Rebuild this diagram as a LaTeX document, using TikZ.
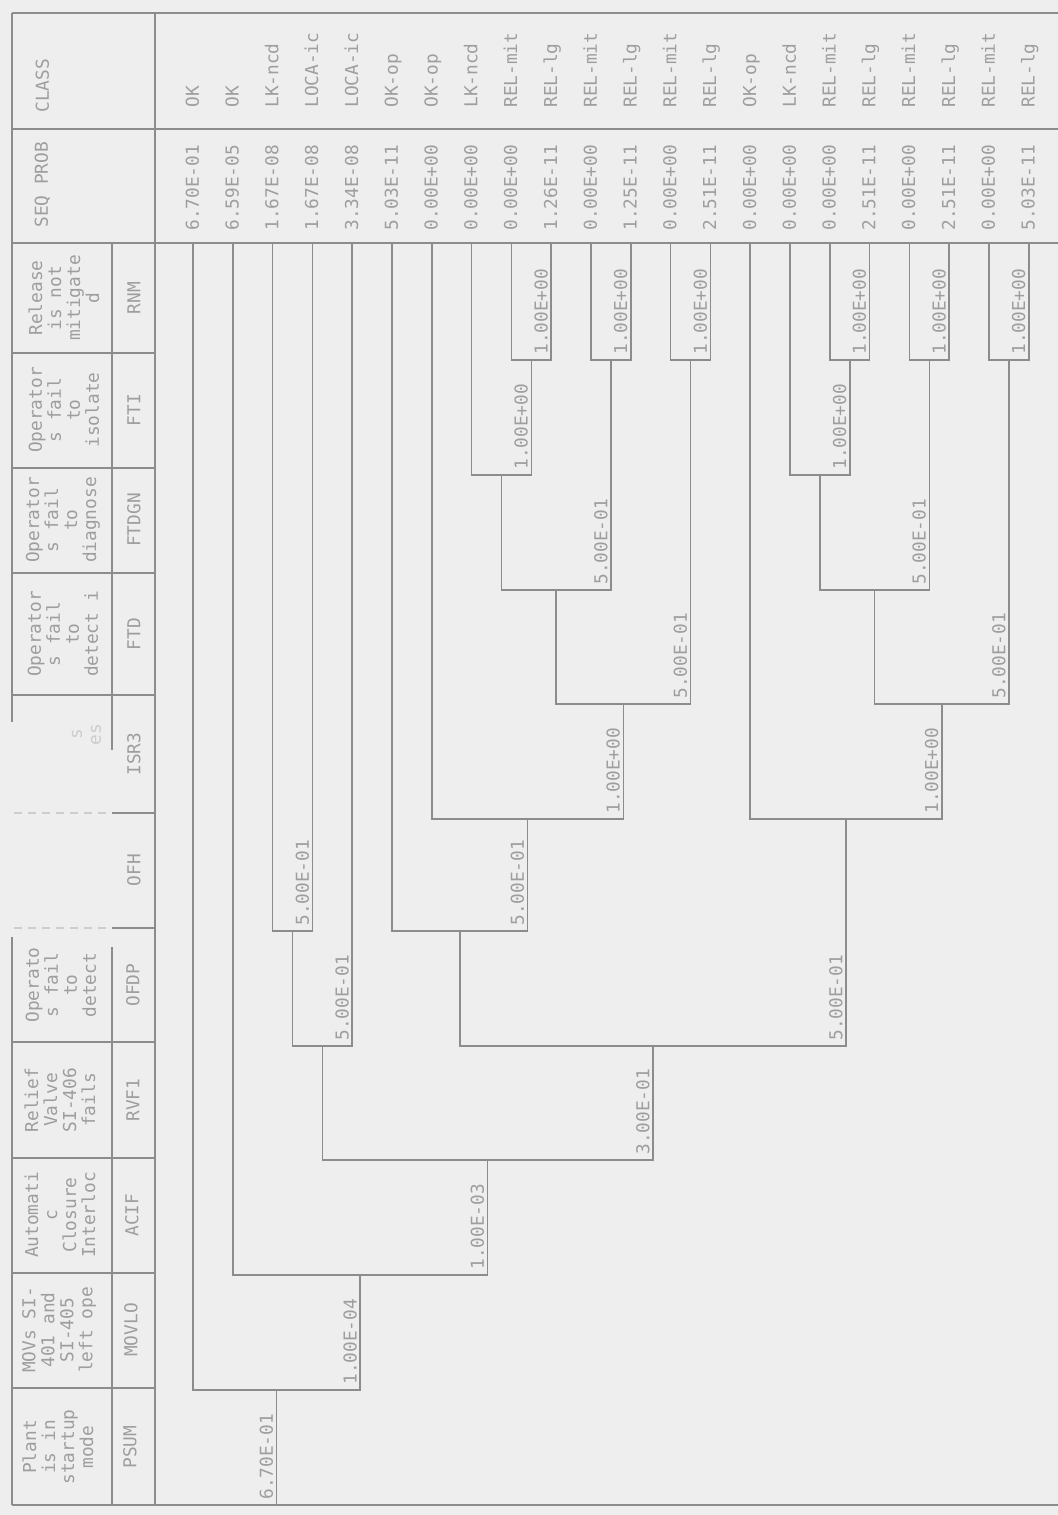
\documentclass[tikz,border=0pt]{standalone}
\usepackage{fontspec}
\newfontfamily\plotfont{DejaVu Sans Mono}
\usetikzlibrary{calc}
\definecolor{paper}{HTML}{EEEEEE}
\definecolor{ink}{HTML}{8C8C8C}
\definecolor{faded}{HTML}{9E9E9E}
\definecolor{ghost}{HTML}{CDCDCD}
\newcommand{\plotsize}{\plotfont\fontsize{8.9}{9.5}\selectfont}
\tikzset{
  frameline/.style={draw=ink,line width=0.9pt},
  branch/.style={draw=ink,line width=0.8pt},
  worn/.style={draw=ghost,line width=0.8pt,dash pattern=on 4pt off 3pt},
  heading/.style={rotate=90,font=\plotsize,text=faded,align=center,inner sep=0pt},
  eventcode/.style={rotate=90,font=\plotsize,text=faded,inner sep=0pt},
  endtext/.style={rotate=90,anchor=west,font=\plotsize,text=faded,inner sep=0pt,text height=1.35ex,text depth=0pt},
  prob/.style={rotate=90,anchor=south west,font=\plotsize,text=faded,inner sep=0pt}
}

\begin{document}
\begin{tikzpicture}[x=0.5pt,y=-0.5pt]
  \useasboundingbox (0,0) rectangle (1058,1515);
  \fill[paper] (0,0) rectangle (1058,1515);

  % table frame
  \draw[frameline] (12,13) -- (1058,13);
  \draw[frameline] (12,129) -- (1058,129);
  \draw[frameline] (12,243) -- (1058,243);
  \draw[frameline] (12,1505) -- (1058,1505);
  \draw[frameline] (12,13) -- (12,722);
  \draw[frameline] (12,937) -- (12,1505);
  \draw[frameline] (155,13) -- (155,1505);
  \draw[frameline] (112,243) -- (112,750);
  \draw[frameline] (112,947) -- (112,1505);
  \draw[frameline] (12,353) -- (155,353);
  \draw[frameline] (12,468) -- (155,468);
  \draw[frameline] (12,573) -- (155,573);
  \draw[frameline] (12,695) -- (155,695);
  \draw[frameline] (112,813) -- (155,813);
  \draw[frameline] (112,928) -- (155,928);
  \draw[worn] (14,813) -- (110,813);
  \draw[worn] (14,928) -- (110,928);
  \draw[frameline] (12,1042) -- (155,1042);
  \draw[frameline] (12,1158) -- (155,1158);
  \draw[frameline] (12,1273) -- (155,1273);
  \draw[frameline] (12,1388) -- (155,1388);

  % column heads
  \node[endtext] (hclass) at (43,113) {CLASS};
  \node[endtext] (hseq) at (42,228) {SEQ PROB};
  \node[heading] (hRNM) at (64,298) {Release\\is not\\mitigate\\d};
  \node[heading] (hFTI) at (64,410) {Operator\\s fail\\to\\isolate};
  \node[heading] (hFTDGN) at (63,520) {Operator\\s fail\\to\\diagnose};
  \node[heading] (hFTD) at (63,634) {Operator\\s fail\\to\\detect i};
  \node[heading,text=ghost,anchor=west] (hISR3) at (96,746) {es};
  \node[heading,text=ghost,anchor=west] (hISR3b) at (77,740) {s};
  \node[heading] (hOFDP) at (61,985) {Operato\\s fail\\to\\detect};
  \node[heading] (hRVF1) at (60,1100) {Relief\\Valve\\SI-406\\fails};
  \node[heading] (hACIF) at (60,1215) {Automati\\c\\Closure\\Interloc};
  \node[heading] (hMOVLO) at (59,1330) {MOVs SI-\\401 and\\SI-405\\left ope};
  \node[heading] (hPSUM) at (58,1447) {Plant\\is in\\startup\\mode};

  \node[eventcode] (cRNM) at (134,298) {RNM};
  \node[eventcode] (cFTI) at (134,410) {FTI};
  \node[eventcode] (cFTDGN) at (134,520) {FTDGN};
  \node[eventcode] (cFTD) at (134,634) {FTD};
  \node[eventcode] (cISR3) at (134,754) {ISR3};
  \node[eventcode] (cOFH) at (134,870) {OFH};
  \node[eventcode] (cOFDP) at (133,985) {OFDP};
  \node[eventcode] (cRVF1) at (133,1100) {RVF1};
  \node[eventcode] (cACIF) at (132,1215) {ACIF};
  \node[eventcode] (cMOVLO) at (131,1330) {MOVLO};
  \node[eventcode] (cPSUM) at (130,1447) {PSUM};

  % sequence ends
  \coordinate (s1) at (193,243);
  \coordinate (s2) at (232.8,243);
  \coordinate (s3) at (272.6,243);
  \coordinate (s4) at (312.4,243);
  \coordinate (s5) at (352.2,243);
  \coordinate (s6) at (392,243);
  \coordinate (s7) at (431.8,243);
  \coordinate (s8) at (471.6,243);
  \coordinate (s9) at (511.4,243);
  \coordinate (s10) at (551.2,243);
  \coordinate (s11) at (591,243);
  \coordinate (s12) at (630.8,243);
  \coordinate (s13) at (670.6,243);
  \coordinate (s14) at (710.4,243);
  \coordinate (s15) at (750.2,243);
  \coordinate (s16) at (790,243);
  \coordinate (s17) at (829.8,243);
  \coordinate (s18) at (869.6,243);
  \coordinate (s19) at (909.4,243);
  \coordinate (s20) at (949.2,243);
  \coordinate (s21) at (989,243);
  \coordinate (s22) at (1028.8,243);

  % branch points
  \coordinate (root) at (276.6,1505);
  \coordinate (f1) at (276.6,1390);
  \coordinate (f2) at (360.2,1275);
  \coordinate (f3) at (487.6,1160);
  \coordinate (f4) at (322.3,1046);
  \coordinate (f5) at (292.5,931);
  \coordinate (f6) at (652.9,1046);
  \coordinate (f7) at (459.8,931);
  \coordinate (f8) at (527.6,819);
  \coordinate (f9) at (623.3,704);
  \coordinate (f10) at (556.2,590);
  \coordinate (f11) at (501.5,475);
  \coordinate (fA) at (531.3,360);
  \coordinate (fB) at (610.9,360);
  \coordinate (fC) at (690.5,360);
  \coordinate (fD) at (846,819);
  \coordinate (fE) at (941.7,704);
  \coordinate (fF) at (874.6,590);
  \coordinate (fG) at (819.9,475);
  \coordinate (fG2) at (849.7,360);
  \coordinate (fH) at (929.3,360);
  \coordinate (fI) at (1008.9,360);

  % tree
  \draw[branch] (root) -- (f1);
  \draw[branch] (s1) |- (f1) -| (f2);
  \draw[branch] (s2) |- (f2) -| (f3);
  \draw[branch] (f4) |- (f3) -| (f6);
  \draw[branch] (f5) |- (f4) -| (s5);
  \draw[branch] (s3) |- (f5) -| (s4);
  \draw[branch] (f7) |- (f6) -| (fD);
  \draw[branch] (s6) |- (f7) -| (f8);
  \draw[branch] (s7) |- (f8) -| (f9);
  \draw[branch] (f10) |- (f9) -| (fC);
  \draw[branch] (f11) |- (f10) -| (fB);
  \draw[branch] (s8) |- (f11) -| (fA);
  \draw[branch] (s9) |- (fA) -| (s10);
  \draw[branch] (s11) |- (fB) -| (s12);
  \draw[branch] (s13) |- (fC) -| (s14);
  \draw[branch] (s15) |- (fD) -| (fE);
  \draw[branch] (fF) |- (fE) -| (fI);
  \draw[branch] (fG) |- (fF) -| (fH);
  \draw[branch] (s16) |- (fG) -| (fG2);
  \draw[branch] (s17) |- (fG2) -| (s18);
  \draw[branch] (s19) |- (fH) -| (s20);
  \draw[branch] (s21) |- (fI) -| (s22);

  % branch probabilities
  \node[prob] (lroot) at ($(root)+(-3,-5)$) {6.70E-01};
  \node[prob] (l1) at ($(f1 -| f2)+(-3,-5)$) {1.00E-04};
  \node[prob] (l2) at ($(f2 -| f3)+(-3,-5)$) {1.00E-03};
  \node[prob] (l3) at ($(f3 -| f6)+(-3,-5)$) {3.00E-01};
  \node[prob] (l4) at ($(f4 -| s5)+(-3,-5)$) {5.00E-01};
  \node[prob] (l5) at ($(f5 -| s4)+(-3,-5)$) {5.00E-01};
  \node[prob] (l6) at ($(f6 -| fD)+(-3,-5)$) {5.00E-01};
  \node[prob] (l7) at ($(f7 -| f8)+(-3,-5)$) {5.00E-01};
  \node[prob] (l8) at ($(f8 -| f9)+(-3,-5)$) {1.00E+00};
  \node[prob] (l9) at ($(f9 -| fC)+(-3,-5)$) {5.00E-01};
  \node[prob] (l10) at ($(f10 -| fB)+(-3,-5)$) {5.00E-01};
  \node[prob] (l11) at ($(f11 -| fA)+(-3,-5)$) {1.00E+00};
  \node[prob] (lA) at ($(fA -| s10)+(-3,-5)$) {1.00E+00};
  \node[prob] (lB) at ($(fB -| s12)+(-3,-5)$) {1.00E+00};
  \node[prob] (lC) at ($(fC -| s14)+(-3,-5)$) {1.00E+00};
  \node[prob] (lD) at ($(fD -| fE)+(-3,-5)$) {1.00E+00};
  \node[prob] (lE) at ($(fE -| fI)+(-3,-5)$) {5.00E-01};
  \node[prob] (lF) at ($(fF -| fH)+(-3,-5)$) {5.00E-01};
  \node[prob] (lG) at ($(fG -| fG2)+(-3,-5)$) {1.00E+00};
  \node[prob] (lG2) at ($(fG2 -| s18)+(-3,-5)$) {1.00E+00};
  \node[prob] (lH) at ($(fH -| s20)+(-3,-5)$) {1.00E+00};
  \node[prob] (lI) at ($(fI -| s22)+(-3,-5)$) {1.00E+00};

  % sequence probabilities
  \node[endtext] (p1) at (193,231) {6.70E-01};
  \node[endtext] (p2) at (232.8,231) {6.59E-05};
  \node[endtext] (p3) at (272.6,231) {1.67E-08};
  \node[endtext] (p4) at (312.4,231) {1.67E-08};
  \node[endtext] (p5) at (352.2,231) {3.34E-08};
  \node[endtext] (p6) at (392,231) {5.03E-11};
  \node[endtext] (p7) at (431.8,231) {0.00E+00};
  \node[endtext] (p8) at (471.6,231) {0.00E+00};
  \node[endtext] (p9) at (511.4,231) {0.00E+00};
  \node[endtext] (p10) at (551.2,231) {1.26E-11};
  \node[endtext] (p11) at (591,231) {0.00E+00};
  \node[endtext] (p12) at (630.8,231) {1.25E-11};
  \node[endtext] (p13) at (670.6,231) {0.00E+00};
  \node[endtext] (p14) at (710.4,231) {2.51E-11};
  \node[endtext] (p15) at (750.2,231) {0.00E+00};
  \node[endtext] (p16) at (790,231) {0.00E+00};
  \node[endtext] (p17) at (829.8,231) {0.00E+00};
  \node[endtext] (p18) at (869.6,231) {2.51E-11};
  \node[endtext] (p19) at (909.4,231) {0.00E+00};
  \node[endtext] (p20) at (949.2,231) {2.51E-11};
  \node[endtext] (p21) at (989,231) {0.00E+00};
  \node[endtext] (p22) at (1028.8,231) {5.03E-11};

  % end state classes
  \node[endtext] (c1) at (193,108) {OK};
  \node[endtext] (c2) at (232.8,108) {OK};
  \node[endtext] (c3) at (272.6,108) {LK-ncd};
  \node[endtext] (c4) at (312.4,108) {LOCA-ic};
  \node[endtext] (c5) at (352.2,108) {LOCA-ic};
  \node[endtext] (c6) at (392,108) {OK-op};
  \node[endtext] (c7) at (431.8,108) {OK-op};
  \node[endtext] (c8) at (471.6,108) {LK-ncd};
  \node[endtext] (c9) at (511.4,108) {REL-mit};
  \node[endtext] (c10) at (551.2,108) {REL-lg};
  \node[endtext] (c11) at (591,108) {REL-mit};
  \node[endtext] (c12) at (630.8,108) {REL-lg};
  \node[endtext] (c13) at (670.6,108) {REL-mit};
  \node[endtext] (c14) at (710.4,108) {REL-lg};
  \node[endtext] (c15) at (750.2,108) {OK-op};
  \node[endtext] (c16) at (790,108) {LK-ncd};
  \node[endtext] (c17) at (829.8,108) {REL-mit};
  \node[endtext] (c18) at (869.6,108) {REL-lg};
  \node[endtext] (c19) at (909.4,108) {REL-mit};
  \node[endtext] (c20) at (949.2,108) {REL-lg};
  \node[endtext] (c21) at (989,108) {REL-mit};
  \node[endtext] (c22) at (1028.8,108) {REL-lg};
\end{tikzpicture}
\end{document}
